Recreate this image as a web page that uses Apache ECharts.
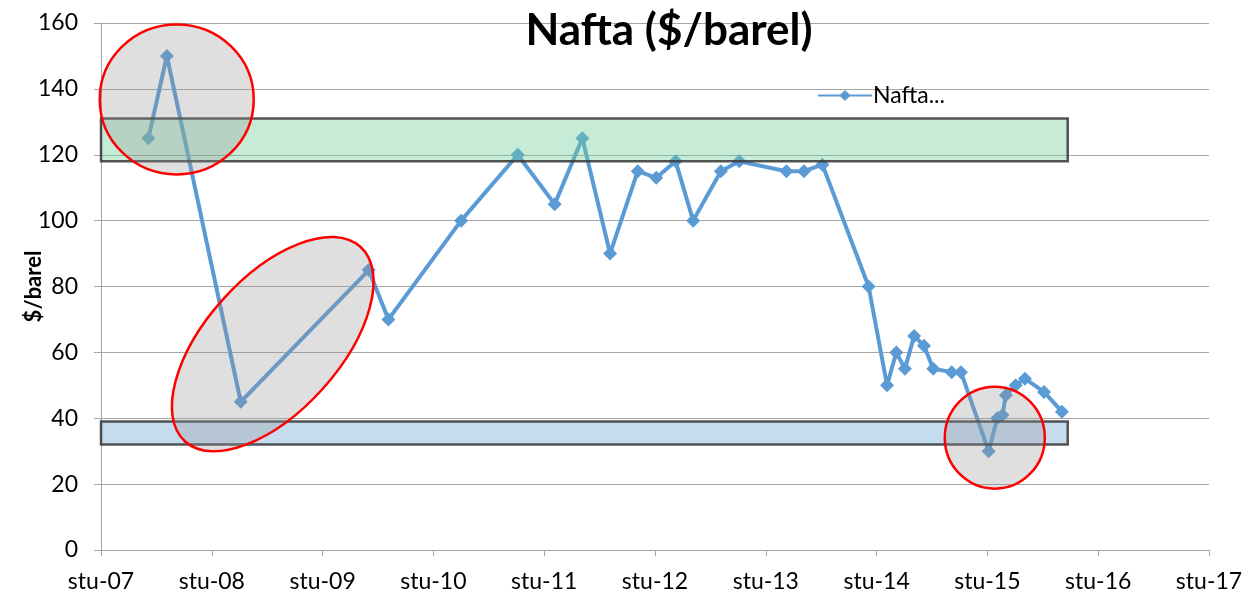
<!DOCTYPE html>
<html>
<head>
<meta charset="utf-8">
<script src="https://cdn.jsdelivr.net/npm/echarts@6/dist/echarts.min.js"></script>
<style>
  html, body { margin: 0; padding: 0; background: #fff; }
  #chart { width: 1246px; height: 596px; }
</style>
</head>
<body>
<div id="chart"></div>
<script>
// datum (godina-mjesec-dan) i cijena nafte u $/barel
var dates = ['2008-04-05', '2008-06-05', '2009-02-05', '2010-04-01', '2010-06-05', '2011-02-01', '2011-08-05', '2011-12-05',
  '2012-03-05', '2012-06-05', '2012-09-05', '2012-11-05', '2013-01-08', '2013-03-05', '2013-06-05', '2013-08-05',
  '2014-01-08', '2014-03-05', '2014-05-05', '2014-10-05', '2014-12-05', '2015-01-05', '2015-02-03', '2015-03-03',
  '2015-04-05', '2015-05-05', '2015-07-05', '2015-08-05', '2015-11-05', '2015-12-03', '2015-12-20', '2016-01-01',
  '2016-02-03', '2016-03-03', '2016-05-05', '2016-07-03'];
var prices = [125, 150, 45, 85, 70, 100, 120, 105,
  125, 90, 115, 113, 118, 100, 115, 118,
  115, 115, 117, 80, 50, 60, 55, 65,
  62, 55, 54, 54, 30, 40, 41, 47,
  50, 52, 48, 42];
var xTickLabels = ['stu-07', 'stu-08', 'stu-09', 'stu-10', 'stu-11', 'stu-12', 'stu-13', 'stu-14', 'stu-15', 'stu-16', 'stu-17'];

// mjeseci od stu-07
function monthIndex(d) {
  var p = d.split('-');
  var day = p[2] ? (+p[2] - 1) / 30 : 0;
  return (+p[0] - 2007) * 12 + (+p[1] - 11) + day;
}

var seriesData = dates.map(function (d, i) { return [monthIndex(d), prices[i]]; });

var font = 'Lato, "Open Sans", sans-serif';
var myChart = echarts.init(document.getElementById('chart'));

var option = {
  backgroundColor: '#fff',
  animation: false,
  title: {
    text: 'Nafta ($/barel)',
    left: 664,
    textAlign: 'center',
    top: 4,
    textStyle: { fontFamily: font, fontSize: 44, fontWeight: 'bold', color: '#000' }
  },
  legend: {
    left: 812,
    top: 79,
    itemWidth: 54,
    itemHeight: 14,
    itemGap: 4,
    data: ['Nafta...'],
    textStyle: { fontFamily: font, fontSize: 23, color: '#000', padding: [0, 0, 0, -4] }
  },
  grid: { left: 101, right: 37, top: 23, bottom: 46, outerBoundsMode: 'none' },
  xAxis: {
    type: 'value',
    min: 0,
    max: 120,
    interval: 12,
    axisLine: { show: true, lineStyle: { color: '#a6a6a6', width: 1 } },
    axisTick: { show: true, length: 6, lineStyle: { color: '#a6a6a6' } },
    splitLine: { show: false },
    axisLabel: {
      fontFamily: font, fontSize: 23, color: '#000', margin: 20,
      formatter: function (v) { return xTickLabels[Math.round(v / 12)]; }
    }
  },
  yAxis: {
    type: 'value',
    min: 0,
    max: 160,
    interval: 20,
    name: '$/barel',
    nameLocation: 'middle',
    nameGap: 56,
    nameMoveOverlap: false,
    nameTextStyle: { fontFamily: font, fontSize: 22, fontWeight: 'bold', color: '#000' },
    axisLine: { show: true, lineStyle: { color: '#a6a6a6', width: 1 } },
    axisTick: { show: true, length: 7, lineStyle: { color: '#a6a6a6' } },
    splitLine: { lineStyle: { color: '#a6a6a6', width: 1 } },
    axisLabel: { fontFamily: font, fontSize: 23, color: '#000', margin: 23 }
  },
  series: [
    {
      name: 'Nafta...',
      type: 'line',
      data: seriesData,
      color: '#5b9bd5',
      symbol: 'diamond',
      symbolSize: 14,
      lineStyle: { width: 4, color: '#5b9bd5' },
      itemStyle: { color: '#5b9bd5' },
      z: 2,
      markArea: {
        silent: true,
        z: 3,
        data: [
          [
            { xAxis: -0.2, yAxis: 131, itemStyle: { color: 'rgba(112,205,155,0.4)', borderColor: 'rgba(55,55,55,0.85)', borderWidth: 2.5 } },
            { xAxis: 104.7, yAxis: 118 }
          ],
          [
            { xAxis: -0.2, yAxis: 39, itemStyle: { color: 'rgba(110,167,215,0.4)', borderColor: 'rgba(55,55,55,0.85)', borderWidth: 2.5 } },
            { xAxis: 104.7, yAxis: 32 }
          ]
        ]
      }
    }
  ]
};
myChart.setOption(option);

// crvene elipse: centar u koordinatama podataka, polumjeri u pikselima, kut u stupnjevima
var ellipses = [
  { c: [8.2, 136.8], rx: 77, ry: 75, angle: 0 },
  { c: [18.6, 62.5], rx: 131, ry: 67, angle: 48 },
  { c: [96.8, 34.1], rx: 50, ry: 51, angle: 0 }
];
var graphics = ellipses.map(function (e) {
  var p = myChart.convertToPixel({ gridIndex: 0 }, e.c);
  return {
    type: 'ellipse',
    x: p[0],
    y: p[1],
    rotation: e.angle * Math.PI / 180,
    shape: { cx: 0, cy: 0, rx: e.rx, ry: e.ry },
    style: { fill: 'rgba(150,150,150,0.3)', stroke: '#ff0000', lineWidth: 2.5 },
    z: 100,
    silent: true
  };
});
myChart.setOption({ graphic: graphics });
</script>
</body>
</html>
